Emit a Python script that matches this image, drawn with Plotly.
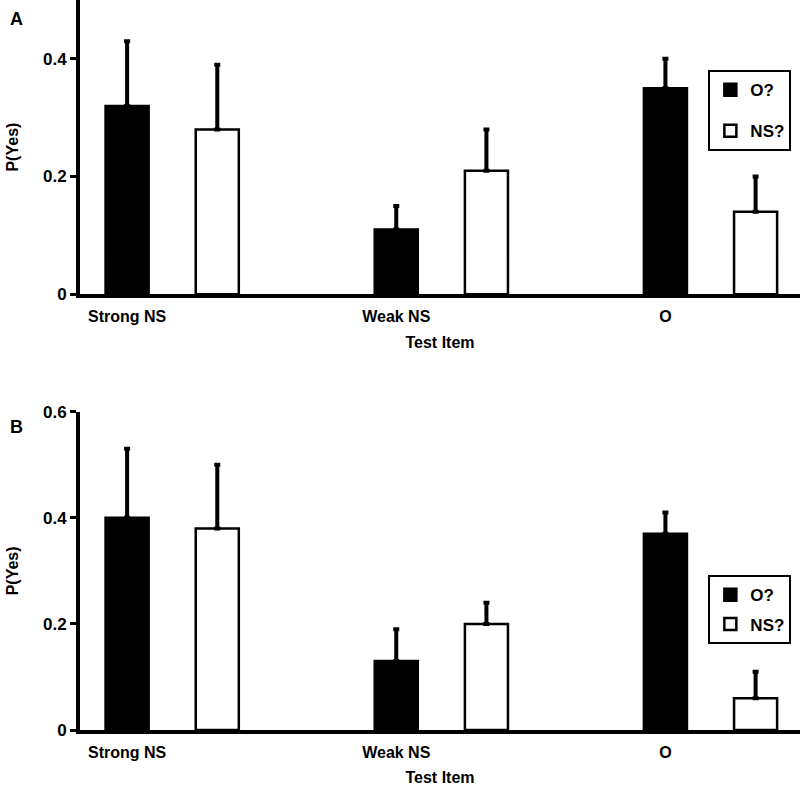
import plotly.graph_objects as go
from plotly.subplots import make_subplots

categories = ['Strong NS', 'Weak NS', 'O']

# panel A
a_o = [0.32, 0.11, 0.35]
a_o_err = [0.11, 0.04, 0.05]
a_ns = [0.28, 0.21, 0.14]
a_ns_err = [0.11, 0.07, 0.06]

# panel B
b_o = [0.40, 0.13, 0.37]
b_o_err = [0.13, 0.06, 0.04]
b_ns = [0.38, 0.20, 0.06]
b_ns_err = [0.12, 0.04, 0.05]

a_yticks = [0, 0.2, 0.4]
b_yticks = [0, 0.2, 0.4, 0.6]

FONT = 'Liberation Sans, Arial, sans-serif'

fig = make_subplots(rows=2, cols=1, vertical_spacing=0.16)


def add_pair(row, o, o_err, ns, ns_err, legend):
    # black bar sits on the category tick, white bar to the right of it
    fig.add_trace(go.Bar(
        name='O?', x=categories, y=o,
        width=0.16, offset=-0.08,
        marker=dict(color='black', line=dict(color='black', width=2.5)),
        error_y=dict(type='data', array=o_err, arrayminus=[0] * len(o), symmetric=False,
                     color='black', thickness=4, width=3),
        legend=legend, legendgroup=legend + 'o',
    ), row=row, col=1)
    fig.add_trace(go.Bar(
        name='NS?', x=categories, y=ns,
        width=0.16, offset=0.255,
        marker=dict(color='white', line=dict(color='black', width=2.5)),
        error_y=dict(type='data', array=ns_err, arrayminus=[0] * len(ns), symmetric=False,
                     color='black', thickness=4, width=3),
        legend=legend, legendgroup=legend + 'ns',
    ), row=row, col=1)


add_pair(1, a_o, a_o_err, a_ns, a_ns_err, 'legend')
add_pair(2, b_o, b_o_err, b_ns, b_ns_err, 'legend2')

axis_common = dict(showgrid=False, zeroline=False, showline=True, linecolor='black', linewidth=4)
bold = dict(family=FONT, color='black', weight='bold')

for r in (1, 2):
    fig.update_xaxes(
        **axis_common, range=[-0.175, 2.5],
        ticks='outside', ticklen=5, tickcolor='rgba(0,0,0,0)',
        tickfont=dict(**bold, size=16),
        title=dict(text='Test Item', font=dict(**bold, size=16), standoff=13),
        automargin=False,
        row=r, col=1,
    )

y_common = dict(ticks='outside', ticklen=6, tickwidth=3, tickcolor='black',
                tickfont=dict(**bold, size=17), automargin=False)
fig.update_yaxes(**axis_common, **y_common, range=[0, 0.5], tickvals=a_yticks, ticktext=['0', '0.2', '0.4'],
                 title=dict(text='P(Yes)', font=dict(**bold, size=16), standoff=21),
                 row=1, col=1)
fig.update_yaxes(**axis_common, **y_common, range=[0, 0.6], tickvals=b_yticks, ticktext=['0', '0.2', '0.4', '0.6'],
                 title=dict(text='P(Yes)', font=dict(**bold, size=16), standoff=21),
                 row=2, col=1)

legend_common = dict(xanchor='right', yanchor='top', bordercolor='black', borderwidth=2, bgcolor='white',
                     font=dict(**bold, size=17), traceorder='grouped')

fig.update_layout(
    width=800, height=786,
    margin=dict(l=80, r=0, t=0, b=56, autoexpand=False),
    paper_bgcolor='white', plot_bgcolor='white',
    barmode='overlay',
    showlegend=True,
    yaxis=dict(domain=[0.597, 1]),
    yaxis2=dict(domain=[0, 0.436]),
    legend=dict(**legend_common, x=0.988, y=0.904, tracegroupgap=16),
    legend2=dict(**legend_common, x=0.988, y=0.212, tracegroupgap=4),
    annotations=[
        dict(text='A', xref='paper', yref='paper', x=-0.1, y=0.991, showarrow=False,
             font=dict(**bold, size=18)),
        dict(text='B', xref='paper', yref='paper', x=-0.1, y=0.415, showarrow=False,
             font=dict(**bold, size=18)),
    ],
)

# drop the page's default body margin so the figure sits at the window corner
fig.write_html('out.html', config={'displayModeBar': False},
               post_script="document.body.style.margin='0';")
